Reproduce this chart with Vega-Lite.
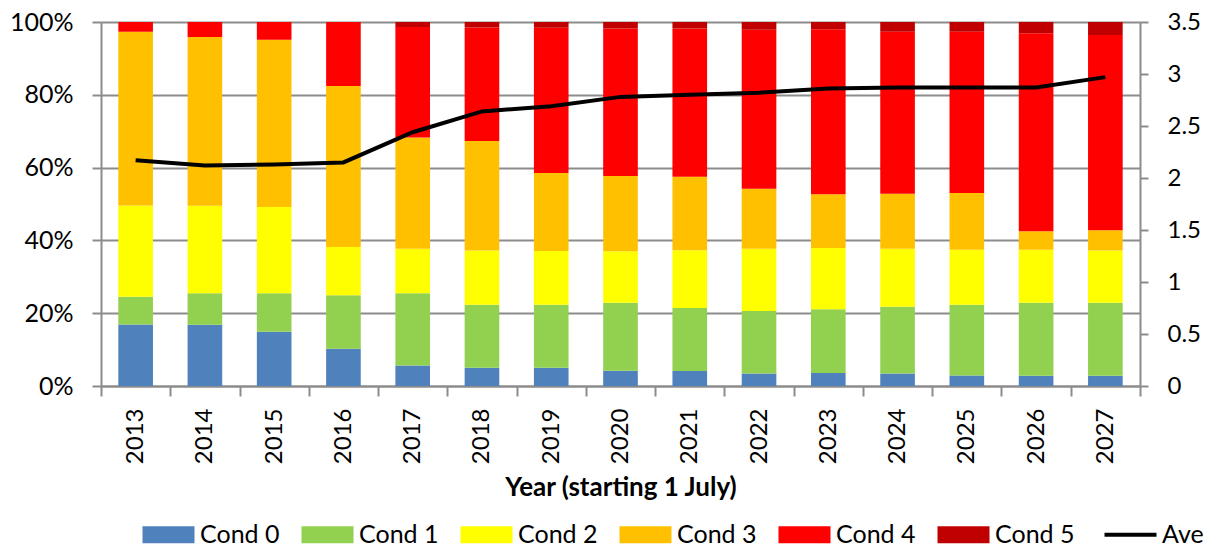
{
  "$schema": "https://vega.github.io/schema/vega-lite/v6.json",
  "width": 1039,
  "height": 364,
  "autosize": {"type": "none"},
  "padding": {"left": 101, "top": 22, "right": 71, "bottom": 161},
  "background": "white",
  "config": {
    "view": {"stroke": null},
    "font": "Lato",
    "axis": {
      "labelFont": "Lato",
      "labelColor": "#000000",
      "titleFont": "Lato",
      "titleColor": "#000000",
      "domainColor": "#8c8c8c",
      "domainWidth": 2,
      "tickColor": "#8c8c8c",
      "tickWidth": 2,
      "gridColor": "#8c8c8c",
      "gridWidth": 2
    }
  },
  "datasets": {
    "cond": [
      {"year": "2013", "cond": "Cond 0", "pct": 16.9}, {"year": "2013", "cond": "Cond 1", "pct": 7.6}, {"year": "2013", "cond": "Cond 2", "pct": 25.1}, {"year": "2013", "cond": "Cond 3", "pct": 47.7}, {"year": "2013", "cond": "Cond 4", "pct": 2.7}, {"year": "2013", "cond": "Cond 5", "pct": 0},
      {"year": "2014", "cond": "Cond 0", "pct": 16.8}, {"year": "2014", "cond": "Cond 1", "pct": 8.7}, {"year": "2014", "cond": "Cond 2", "pct": 24.0}, {"year": "2014", "cond": "Cond 3", "pct": 46.4}, {"year": "2014", "cond": "Cond 4", "pct": 4.1}, {"year": "2014", "cond": "Cond 5", "pct": 0},
      {"year": "2015", "cond": "Cond 0", "pct": 14.9}, {"year": "2015", "cond": "Cond 1", "pct": 10.6}, {"year": "2015", "cond": "Cond 2", "pct": 23.7}, {"year": "2015", "cond": "Cond 3", "pct": 45.9}, {"year": "2015", "cond": "Cond 4", "pct": 4.9}, {"year": "2015", "cond": "Cond 5", "pct": 0},
      {"year": "2016", "cond": "Cond 0", "pct": 10.2}, {"year": "2016", "cond": "Cond 1", "pct": 14.7}, {"year": "2016", "cond": "Cond 2", "pct": 13.3}, {"year": "2016", "cond": "Cond 3", "pct": 44.2}, {"year": "2016", "cond": "Cond 4", "pct": 17.6}, {"year": "2016", "cond": "Cond 5", "pct": 0},
      {"year": "2017", "cond": "Cond 0", "pct": 5.6}, {"year": "2017", "cond": "Cond 1", "pct": 19.9}, {"year": "2017", "cond": "Cond 2", "pct": 12.2}, {"year": "2017", "cond": "Cond 3", "pct": 30.6}, {"year": "2017", "cond": "Cond 4", "pct": 30.3}, {"year": "2017", "cond": "Cond 5", "pct": 1.4},
      {"year": "2018", "cond": "Cond 0", "pct": 5.0}, {"year": "2018", "cond": "Cond 1", "pct": 17.3}, {"year": "2018", "cond": "Cond 2", "pct": 14.9}, {"year": "2018", "cond": "Cond 3", "pct": 30.1}, {"year": "2018", "cond": "Cond 4", "pct": 31.2}, {"year": "2018", "cond": "Cond 5", "pct": 1.5},
      {"year": "2019", "cond": "Cond 0", "pct": 5.0}, {"year": "2019", "cond": "Cond 1", "pct": 17.3}, {"year": "2019", "cond": "Cond 2", "pct": 14.8}, {"year": "2019", "cond": "Cond 3", "pct": 21.4}, {"year": "2019", "cond": "Cond 4", "pct": 39.9}, {"year": "2019", "cond": "Cond 5", "pct": 1.6},
      {"year": "2020", "cond": "Cond 0", "pct": 4.2}, {"year": "2020", "cond": "Cond 1", "pct": 18.7}, {"year": "2020", "cond": "Cond 2", "pct": 14.1}, {"year": "2020", "cond": "Cond 3", "pct": 20.7}, {"year": "2020", "cond": "Cond 4", "pct": 40.5}, {"year": "2020", "cond": "Cond 5", "pct": 1.8},
      {"year": "2021", "cond": "Cond 0", "pct": 4.1}, {"year": "2021", "cond": "Cond 1", "pct": 17.3}, {"year": "2021", "cond": "Cond 2", "pct": 15.9}, {"year": "2021", "cond": "Cond 3", "pct": 20.2}, {"year": "2021", "cond": "Cond 4", "pct": 40.7}, {"year": "2021", "cond": "Cond 5", "pct": 1.8},
      {"year": "2022", "cond": "Cond 0", "pct": 3.4}, {"year": "2022", "cond": "Cond 1", "pct": 17.2}, {"year": "2022", "cond": "Cond 2", "pct": 17.1}, {"year": "2022", "cond": "Cond 3", "pct": 16.5}, {"year": "2022", "cond": "Cond 4", "pct": 43.7}, {"year": "2022", "cond": "Cond 5", "pct": 2.1},
      {"year": "2023", "cond": "Cond 0", "pct": 3.6}, {"year": "2023", "cond": "Cond 1", "pct": 17.5}, {"year": "2023", "cond": "Cond 2", "pct": 16.8}, {"year": "2023", "cond": "Cond 3", "pct": 14.8}, {"year": "2023", "cond": "Cond 4", "pct": 45.3}, {"year": "2023", "cond": "Cond 5", "pct": 2.0},
      {"year": "2024", "cond": "Cond 0", "pct": 3.4}, {"year": "2024", "cond": "Cond 1", "pct": 18.4}, {"year": "2024", "cond": "Cond 2", "pct": 15.9}, {"year": "2024", "cond": "Cond 3", "pct": 15.1}, {"year": "2024", "cond": "Cond 4", "pct": 44.5}, {"year": "2024", "cond": "Cond 5", "pct": 2.7},
      {"year": "2025", "cond": "Cond 0", "pct": 2.9}, {"year": "2025", "cond": "Cond 1", "pct": 19.4}, {"year": "2025", "cond": "Cond 2", "pct": 15.1}, {"year": "2025", "cond": "Cond 3", "pct": 15.6}, {"year": "2025", "cond": "Cond 4", "pct": 44.3}, {"year": "2025", "cond": "Cond 5", "pct": 2.7},
      {"year": "2026", "cond": "Cond 0", "pct": 2.8}, {"year": "2026", "cond": "Cond 1", "pct": 20.1}, {"year": "2026", "cond": "Cond 2", "pct": 14.5}, {"year": "2026", "cond": "Cond 3", "pct": 5.1}, {"year": "2026", "cond": "Cond 4", "pct": 54.4}, {"year": "2026", "cond": "Cond 5", "pct": 3.1},
      {"year": "2027", "cond": "Cond 0", "pct": 2.8}, {"year": "2027", "cond": "Cond 1", "pct": 20.1}, {"year": "2027", "cond": "Cond 2", "pct": 14.3}, {"year": "2027", "cond": "Cond 3", "pct": 5.6}, {"year": "2027", "cond": "Cond 4", "pct": 53.6}, {"year": "2027", "cond": "Cond 5", "pct": 3.6}
    ],
    "ave": [
      {"year": "2013", "ave": 2.17}, {"year": "2014", "ave": 2.12}, {"year": "2015", "ave": 2.13},
      {"year": "2016", "ave": 2.15}, {"year": "2017", "ave": 2.44}, {"year": "2018", "ave": 2.64},
      {"year": "2019", "ave": 2.69}, {"year": "2020", "ave": 2.78}, {"year": "2021", "ave": 2.80},
      {"year": "2022", "ave": 2.82}, {"year": "2023", "ave": 2.86}, {"year": "2024", "ave": 2.87},
      {"year": "2025", "ave": 2.87}, {"year": "2026", "ave": 2.87}, {"year": "2027", "ave": 2.97}
    ]
  },
  "encoding": {
    "x": {
      "field": "year",
      "type": "ordinal",
      "scale": {"paddingInner": 0, "paddingOuter": 0},
      "axis": {
        "title": "Year (starting 1 July)",
        "titleFontSize": 26,
        "titleFontWeight": "bold",
        "titlePadding": 11,
        "labelFontSize": 24,
        "labelAngle": -90,
        "labelAlign": "right",
        "labelBaseline": "middle",
        "labelPadding": 12,
        "tickSize": 10,
        "tickBand": "extent"
      }
    }
  },
  "layer": [
    {
      "data": {"name": "cond"},
      "mark": {"type": "bar", "width": {"band": 0.5}},
      "encoding": {
        "y": {
          "field": "pct",
          "type": "quantitative",
          "stack": "normalize",
          "scale": {"domain": [0, 1]},
          "axis": {
            "title": null,
            "values": [0, 0.2, 0.4, 0.6, 0.8, 1],
            "format": ".0%",
            "labelFontSize": 25,
            "labelPadding": 19,
            "tickSize": 9,
            "grid": true
          }
        },
        "order": {"field": "cond", "sort": "ascending"},
        "color": {
          "field": "cond",
          "type": "nominal",
          "scale": {
            "domain": ["Cond 0", "Cond 1", "Cond 2", "Cond 3", "Cond 4", "Cond 5", "Ave"],
            "range": ["#4f81bd", "#92d050", "#ffff00", "#ffc000", "#ff0000", "#c00000", "#000000"]
          },
          "legend": {
            "title": null,
            "orient": "none",
            "direction": "horizontal",
            "legendX": 55,
            "legendY": 500,
            "padding": 0,
            "symbolSize": 2704,
            "symbolStrokeWidth": 0,
            "labelFont": "Lato",
            "labelFontSize": 25,
            "labelColor": "#000000",
            "labelOffset": 19,
            "columnPadding": 21,
            "encode": {
              "symbols": {
                "update": {
                  "shape": {"signal": "datum.value === 'Ave' ? 'stroke' : 'M-1,-0.327H1V0.327H-1Z'"},
                  "fill": {"scale": "color", "field": "value"},
                  "stroke": {"signal": "datum.value === 'Ave' ? '#000000' : 'transparent'"},
                  "strokeWidth": {"signal": "datum.value === 'Ave' ? 4 : 0"},
                  "opacity": {"value": 1}
                }
              }
            }
          }
        }
      }
    },
    {
      "data": {"name": "ave"},
      "mark": {"type": "line", "strokeWidth": 4, "color": "#000000"},
      "encoding": {
        "y": {
          "field": "ave",
          "type": "quantitative",
          "scale": {"domain": [0, 3.5], "nice": false},
          "axis": {
            "orient": "right",
            "title": null,
            "values": [0, 0.5, 1, 1.5, 2, 2.5, 3, 3.5],
            "format": "~g",
            "labelFontSize": 24,
            "labelPadding": 19,
            "tickSize": 8,
            "grid": false
          }
        },
        "color": {"datum": "Ave", "type": "nominal"}
      }
    }
  ],
  "resolve": {"scale": {"y": "independent"}}
}
